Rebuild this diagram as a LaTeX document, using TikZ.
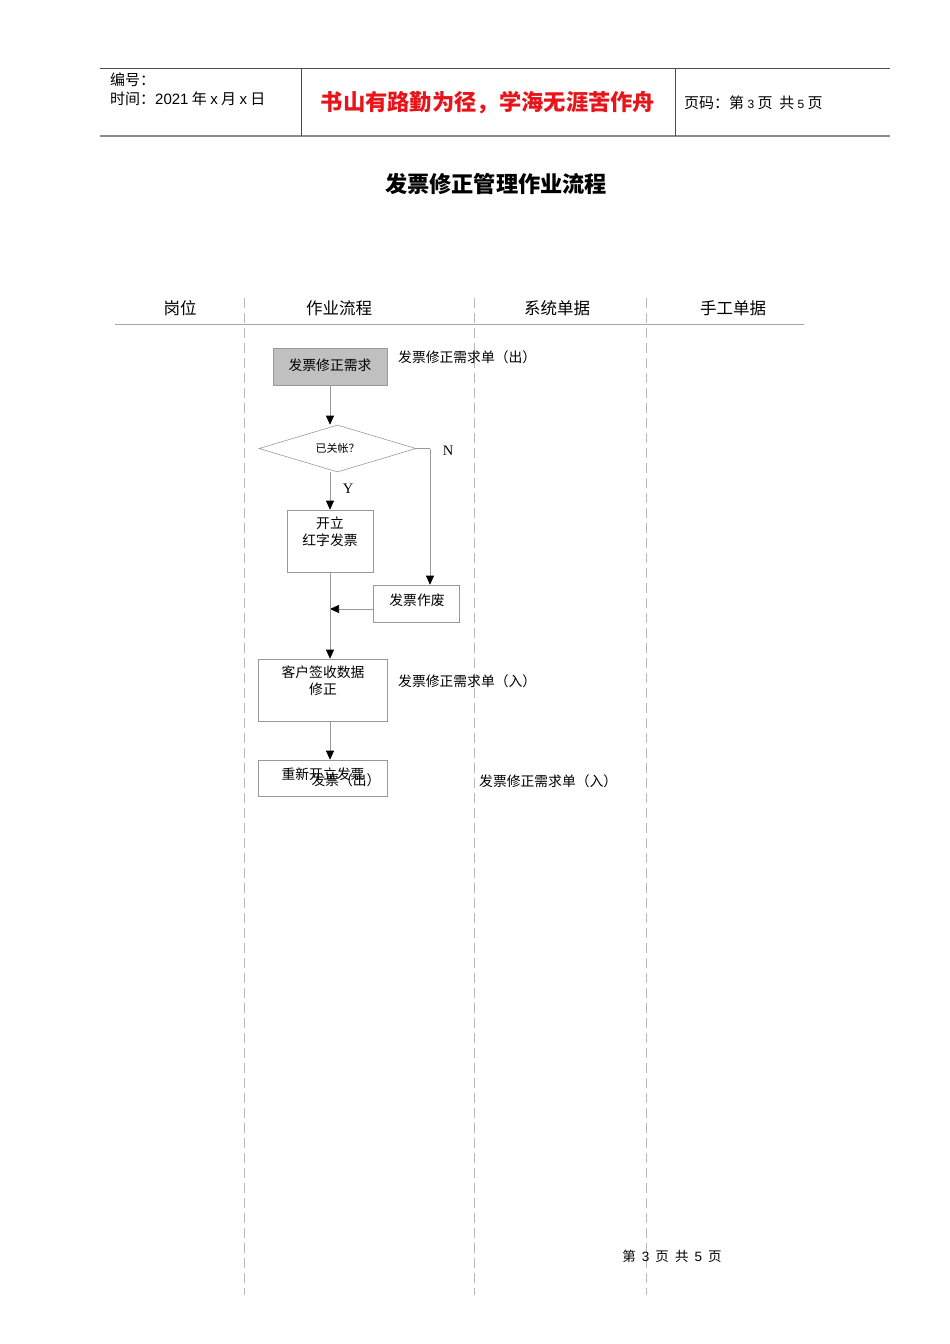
\documentclass[tikz,border=0pt]{standalone}
\usepackage{fontspec}
\setmainfont{Noto Sans CJK SC}
\newfontfamily\serifl{Liberation Serif}
\newfontfamily\sansl{Liberation Sans}
\usetikzlibrary{arrows.meta,shapes.geometric,calc}
\definecolor{boxgray}{HTML}{999999}
\definecolor{fillgray}{HTML}{C0C0C0}
\definecolor{redtxt}{HTML}{E8141B}
\tikzset{
  flowbox/.style={draw=boxgray, line width=0.6pt, inner sep=0pt},
  body/.style={font=\fontsize{13.8}{16.5}\selectfont, inner sep=0pt},
  hdr/.style={font=\fontsize{16.5}{19}\selectfont, inner sep=0pt},
  conn/.style={draw=boxgray, line width=0.6pt},
  arr/.style={conn, -{Triangle[length=9pt,width=8pt,fill=black,color=black]}},
  lane/.style={draw=boxgray!70, line width=0.5pt, dash pattern=on 10pt off 5pt},
}
\begin{document}
\begin{tikzpicture}[x=1pt,y=-1pt]
\useasboundingbox (0,0) rectangle (950,1344);
% header
\draw[line width=0.8pt, black!70] (100,68) -- (890,68);
\draw[line width=1.4pt, black!45] (100,136) -- (890,136);
\draw[line width=0.8pt, black!70] (301,68) -- (301,136);
\draw[line width=0.8pt, black!70] (675,68) -- (675,136);
\node[anchor=west, inner sep=0pt, font=\fontsize{15}{17}\selectfont] (bh) at (110,80) {编号：};
\node[anchor=west, inner sep=0pt, font=\fontsize{15}{17}\selectfont] (sj) at (110,99) {时间：{\sansl 2021} 年 {\sansl x} 月 {\sansl x} 日};
\node[inner sep=0pt, font=\fontsize{22.3}{25}\selectfont\bfseries, text=redtxt] (motto) at (488,103) {书山有路勤为径，学海无涯苦作舟};
\node[anchor=west, inner sep=0pt, font=\fontsize{15}{17}\selectfont] (ym) at (684,103) {页码：第 {\sansl\fontsize{12}{14}\selectfont 3} 页\ \ 共 {\sansl\fontsize{12}{14}\selectfont 5} 页};
% title
\node[inner sep=0pt, font=\fontsize{22.2}{25}\selectfont\bfseries] (title) at (496,184) {发票修正管理作业流程};
% lanes
\draw[line width=0.8pt, black!35] (115,324) -- (804,324);
\draw[lane] (244,298) -- (244,1295);
\draw[lane] (474,298) -- (474,1295);
\draw[lane] (646,298) -- (646,1295);
\node[hdr] (h1) at (180,308) {岗位};
\node[hdr] (h2) at (339,308) {作业流程};
\node[hdr] (h3) at (557,308) {系统单据};
\node[hdr] (h4) at (733,308) {手工单据};
% flow
\node[flowbox, fill=fillgray, minimum width=114pt, minimum height=37pt, body] (req) at (330,366.5) {\raisebox{4pt}{发票修正需求}};
\node[body, anchor=west] (l1) at (398,357) {发票修正需求单（出）};
\node[flowbox, shape=diamond, minimum width=157pt, minimum height=47pt, aspect=3.3, font=\fontsize{11}{12}\selectfont] (d) at (337.5,448.5) {已关帐？};
\node[flowbox, minimum width=86pt, minimum height=62pt] (kl) at (330,541) {};
\node[body, align=center, anchor=north] (klt) at (330,517) {开立\\红字发票};
\node[flowbox, minimum width=86pt, minimum height=37pt] (zf) at (416,603.5) {};
\node[body] (zft) at (417,600) {发票作废};
\node[body, anchor=west] (l2) at (398,681) {发票修正需求单（入）};
\node[flowbox, minimum width=129pt, minimum height=62pt] (kh) at (322.5,690) {};
\node[body, align=center, anchor=north] (kht) at (323,666) {客户签收数据\\修正};
\node[flowbox, minimum width=129pt, minimum height=36pt] (cx) at (322.5,778) {};
\node[body] (cxt) at (323,774) {重新开立发票};
\node[body] (cxo) at (346,780) {发票（出）};
\node[body, anchor=west] (l3) at (479,781) {发票修正需求单（入）};
\node[inner sep=0pt, font=\serifl\fontsize{14.5}{16}\selectfont] (nl) at (448,451) {N};
\node[inner sep=0pt, font=\serifl\fontsize{14.5}{16}\selectfont] (yl) at (348,489) {Y};
\coordinate (nc) at (430,448.5);
\coordinate (zw) at (373,609);
% connectors
\draw[arr] (req.south) -- (req.south |- d.north);
\draw[conn] (d.east) -- (nc);
\draw[arr] (nc) -- (nc |- zf.north);
\draw[arr] (kl.north |- d.south) -- (kl.north);
\draw[arr] (zw) -- (zw -| kl.south);
\draw[arr] (kl.south) -- (kl.south |- kh.north);
\draw[arr] (kl.south |- kh.south) -- (kl.south |- cx.north);
% footer
\node[inner sep=0pt, font=\fontsize{13.5}{15}\selectfont] (ft) at (672,1256) {第\ \ {\sansl 3}\ \ 页\ \ 共\ \ {\sansl 5}\ \ 页};
\end{tikzpicture}
\end{document}
